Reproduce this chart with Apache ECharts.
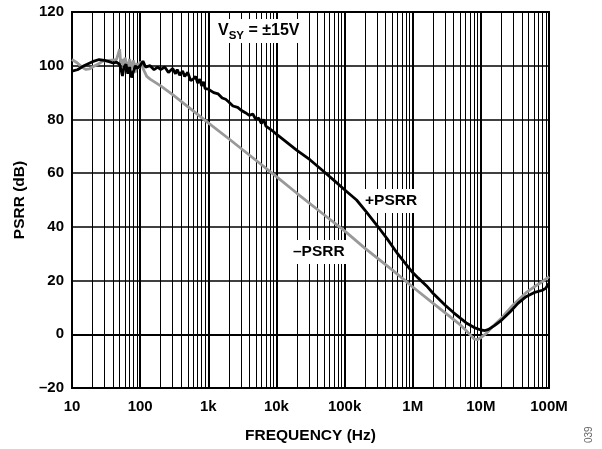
<!DOCTYPE html>
<html>
<head>
<meta charset="utf-8">
<script src="https://cdn.jsdelivr.net/npm/echarts@6/dist/echarts.min.js"></script>
<style>html,body{margin:0;padding:0;background:#fff;}#c{width:602px;height:449px;}</style>
</head>
<body>
<div id="c"></div>
<script>
// ---- Data ----
var posFreq = [10,12,15,20,25,30,35,40,45,50,53,55,58,62,66,70,75,80,85,90,100,110,120,140,160,180,200,230,260,300,330,350,380,420,450,500,550,600,650,700,750,800,850,900,1000,1200,1400,1600,1800,2000,2300,2700,3000,3500,4000,4500,5000,5500,6000,6500,7000,8000,9000,10000,15000,20000,31000,50000,70000,100000,150000,210000,300000,420000,600000,800000,1000000,1200000,1600000,2000000,3000000,4000000,5000000,6300000,8000000,10000000,11500000,13000000,16000000,20000000,27000000,35000000,46000000,60000000,80000000,90000000,100000000];
var posPsrr = [98,98.5,100,101.5,102.3,102,101.5,101,101.3,100.5,98,96.2,99.5,100.5,97,99.5,95.6,98,100,99,100,101.7,99.5,100,98.5,99.5,98.6,99.5,97.5,99,97,98.6,96.5,98,96,97.5,94.5,95,96,93.5,95,92.5,94,91.5,91.3,90,89.5,88,87.5,86.5,85,84.5,83.5,82.5,81.5,82,80,80.5,78.5,80,77.5,76.5,75.5,74.5,71,68.5,65,60.5,57.3,53.8,50,45.5,40.5,35.6,30,26,23,21,18,15.2,10.8,8,6,4,2.5,1.6,1.4,1.8,3.3,5.2,8.4,11.5,14,15.5,16.4,17.2,19];
var negFreq = [10,12,14,16,18,20,25,28,35,45,48,50,52,55,58,60,63,66,70,75,80,85,90,95,100,105,115,125,140,200,300,400,600,1000,2000,5000,10000,20000,50000,100000,200000,500000,1000000,2000000,3000000,5000000,6300000,8000000,9000000,10000000,12000000,15000000,20000000,30000000,46000000,60000000,80000000,100000000];
var negPsrr = [102.3,101,99.5,98.6,98.8,99.5,100.8,101.7,102,102.3,103,106.2,100.5,102.5,99,103,101,98,102.5,99,102,97.5,101,99,101.5,101.7,98,96,95,92.5,89.2,86.7,83.2,78.7,72.8,64.8,58.7,52.5,44.5,38.5,32,24,17.6,11.5,8,3.5,1,-1.8,-2,-1.2,0.3,3,6,11,15.5,17.6,19.6,21.5];
var xTickLabels = {10:'10',100:'100',1000:'1k',10000:'10k',100000:'100k',1000000:'1M',10000000:'10M',100000000:'100M'};
var seriesNames = ['+PSRR','–PSRR'];
var xName = 'FREQUENCY (Hz)';
var yName = 'PSRR (dB)';

function pairs(xs, ys){ var o=[]; for(var i=0;i<xs.length;i++) o.push([xs[i], ys[i]]); return o; }

// minor vertical grid positions (2..9 per decade)
var minorLines = [];
for (var d = 10; d < 1e8; d *= 10) {
  for (var k = 2; k <= 9; k++) minorLines.push({xAxis: d * k});
}

var font = "'Liberation Sans', Arial, Helvetica, sans-serif";
var chart = echarts.init(document.getElementById('c'), null, {renderer:'canvas'});
chart.setOption({
  backgroundColor: '#fff',
  animation: false,
  grid: {left: 72, right: 53, top: 12, bottom: 57, show: true, borderColor: '#000', borderWidth: 2, backgroundColor: 'transparent'},
  xAxis: {
    type: 'log', logBase: 10, min: 10, max: 1e8, splitNumber: 7,
    name: xName, nameLocation: 'middle', nameGap: 40,
    nameTextStyle: {fontFamily: font, fontWeight: 'bold', fontSize: 15.5, color: '#000'},
    axisLine: {show: true, lineStyle: {color: '#000', width: 2}},
    axisTick: {show: false},
    axisLabel: {fontFamily: font, fontWeight: 'bold', fontSize: 15, color: '#000', margin: 11,
      formatter: function(v){ var r = Math.round(v); return xTickLabels[r] || ''; }},
    splitLine: {show: true, lineStyle: {color: '#000', width: 2}}
  },
  yAxis: {
    type: 'value', min: -20, max: 120, interval: 20,
    name: yName, nameLocation: 'middle', nameGap: 44,
    nameTextStyle: {fontFamily: font, fontWeight: 'bold', fontSize: 15.5, color: '#000'},
    axisLine: {show: true, lineStyle: {color: '#000', width: 2}},
    axisTick: {show: false},
    axisLabel: {fontFamily: font, fontWeight: 'bold', fontSize: 15, color: '#000', margin: 8,
      formatter: function(v){ return String(v).replace('-', '–'); }},
    splitLine: {show: true, lineStyle: {color: '#000', width: 1.5}}
  },
  series: [
    {
      name: 'grid', type: 'line', data: [], z: 1, silent: true,
      markLine: {silent: true, symbol: 'none', label: {show: false}, animation: false, z: 1,
        lineStyle: {color: '#000', width: 1, type: 'solid'}, data: minorLines}
    },
    {
      name: seriesNames[1], type: 'line', data: pairs(negFreq, negPsrr), showSymbol: false, symbol: 'none',
      lineStyle: {color: '#999999', width: 2.8}, z: 5
    },
    {
      name: seriesNames[0], type: 'line', data: pairs(posFreq, posPsrr), showSymbol: false, symbol: 'none',
      lineStyle: {color: '#000000', width: 2.8}, z: 6
    }
  ],
  graphic: [
    {type: 'text', left: 214, top: 19, z: 3, style: {
      rich: {a: {fontFamily: font, fontWeight: 'bold', fontSize: 16, fill: '#000', lineHeight: 20},
             b: {fontFamily: font, fontWeight: 'bold', fontSize: 11.5, fill: '#000', lineHeight: 20, padding: [9,0,0,0]}},
      text: '{a|V}{b|SY}{a| = ±15V}', backgroundColor: '#fff', padding: [2, 4, 2, 4]}},
    {type: 'text', left: 361, top: 189, z: 3, style: {
      text: seriesNames[0], fontFamily: font, fontWeight: 'bold', fontSize: 15.5, fill: '#000',
      backgroundColor: '#fff', padding: [4, 4, 4, 4]}},
    {type: 'text', left: 289, top: 240, z: 3, style: {
      text: seriesNames[1], fontFamily: font, fontWeight: 'bold', fontSize: 15.5, fill: '#000',
      backgroundColor: '#fff', padding: [4, 4, 4, 4]}},
    {type: 'text', x: 584, y: 443, rotation: Math.PI/2, z: 3, style: {
      text: '039', fontFamily: font, fontSize: 10, fill: '#666'}}
  ]
});
</script>
</body>
</html>
